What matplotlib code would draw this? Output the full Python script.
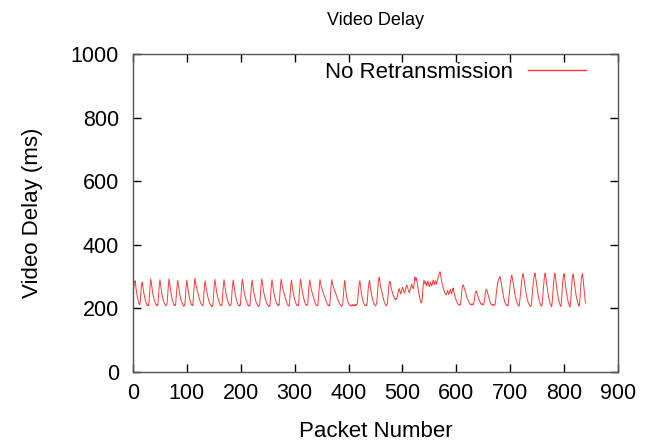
import matplotlib
matplotlib.use("Agg")
import matplotlib.pyplot as plt
import numpy as np

plt.rcParams['font.family'] = ['Liberation Sans', 'DejaVu Sans']

title = "Video Delay"
xlabel = "Packet Number"
ylabel = "Video Delay (ms)"
series_name = "No Retransmission"
xticks = [0, 100, 200, 300, 400, 500, 600, 700, 800, 900]
yticks = [0, 200, 400, 600, 800, 1000]

# video delay per packet (ms), one row per cycle
delay_rows = [
    [232, 256, 274, 283],
    [287, 272, 258, 246, 236, 228, 221, 216, 212, 214, 232, 258, 275],
    [282, 271, 259, 249, 240, 232, 225, 219, 214, 210, 208, 211, 209, 228, 254, 276],
    [292, 280, 266, 254, 244, 236, 229, 223, 218, 214, 211, 209, 212, 210, 229, 255, 277],
    [290, 277, 264, 252, 243, 235, 228, 222, 217, 213, 210, 208, 211, 213, 231, 258, 279],
    [293, 279, 265, 253, 243, 234, 226, 220, 215, 211, 209, 212, 210, 232, 257, 276],
    [288, 276, 262, 251, 242, 234, 227, 222, 217, 213, 210, 207, 210, 209, 227, 254, 275],
    [289, 275, 262, 250, 240, 231, 224, 218, 213, 210, 212, 209, 234, 262, 282],
    [295, 284, 272, 266, 258, 250, 246, 238, 231, 225, 220, 216, 213, 210, 208, 211, 230, 256, 276],
    [287, 274, 262, 252, 243, 235, 229, 223, 218, 214, 211, 208, 206, 209, 207, 230, 257, 277],
    [291, 278, 265, 254, 245, 237, 230, 224, 218, 214, 211, 209, 212, 210, 231, 258, 278],
    [290, 277, 263, 252, 243, 235, 228, 222, 217, 213, 210, 208, 211, 212, 232, 258, 277],
    [289, 276, 263, 252, 242, 234, 227, 221, 216, 212, 209, 207, 210, 209, 230, 257, 279],
    [292, 279, 266, 255, 246, 238, 231, 225, 220, 215, 212, 209, 207, 210, 208, 229, 256, 276],
    [289, 276, 264, 253, 244, 236, 229, 223, 218, 214, 211, 208, 206, 209, 211, 232, 259, 279],
    [293, 281, 268, 257, 248, 240, 233, 227, 221, 217, 213, 210, 208, 206, 209, 207, 228, 256, 277],
    [290, 277, 264, 253, 244, 236, 229, 223, 218, 214, 211, 209, 212, 210, 231, 257, 278],
    [292, 280, 270, 262, 256, 249, 243, 236, 230, 224, 219, 215, 212, 209, 207, 210, 229, 255, 276],
    [289, 276, 263, 252, 243, 235, 228, 222, 217, 213, 210, 208, 211, 209, 230, 257, 278],
    [292, 279, 266, 255, 245, 237, 230, 224, 218, 214, 211, 209, 212, 211, 232, 258, 277],
    [290, 278, 267, 259, 252, 246, 239, 233, 227, 222, 217, 213, 210, 208, 210, 209, 228, 255, 277],
    [291, 282, 272, 266, 260, 255, 249, 244, 240, 234, 229, 224, 220, 216, 213, 210, 208, 211, 209, 230, 256, 276],
    [290, 281, 272, 267, 262, 258, 252, 248, 243, 238, 233, 229, 224, 220, 216, 213, 210, 208, 206, 209, 212, 233, 258, 276],
    [287, 270, 255, 243, 234, 226, 220, 215, 212, 210, 208, 211, 209, 207, 210, 212, 209, 211, 208, 210, 213, 209, 211, 214, 226, 248, 266, 280],
    [286, 272, 258, 246, 236, 228, 222, 217, 213, 210, 208, 211, 209, 212, 228, 252, 270, 281],
    [288, 274, 261, 250, 241, 233, 226, 220, 216, 212, 210, 208, 211, 214, 232, 258, 280, 292],
    [298, 285, 272, 264, 258, 250, 242, 235, 228, 222, 217, 213, 210, 208, 211, 215, 235, 258, 274, 282],
    [285, 276, 266, 258, 252, 246, 241, 237, 233, 230, 228, 231, 229, 234],
    [242, 251, 258, 262, 256, 250, 246, 252, 260, 266, 262, 256, 250, 248, 254],
    [262, 270, 274, 268, 262, 257, 252, 249, 256, 264, 270, 276, 272, 266, 262, 270, 282],
    [299, 292, 288, 296, 284, 272, 262, 252, 243, 234, 226, 220, 217],
    [219, 236, 262, 280, 289, 282, 276, 284, 279, 271, 277, 286, 280, 272, 268, 276, 283, 277],
    [270, 274, 282, 289, 281, 275, 279, 287, 283, 276, 281, 290, 296, 302, 309, 314],
    [315, 303, 292, 283, 275, 268, 262, 257, 252, 248, 245, 242],
    [246, 252, 256, 250, 244, 248, 255, 260, 253, 246, 250, 258, 264, 256, 247, 240, 234, 229],
    [224, 220, 217, 214, 212, 210, 213, 211, 216, 232, 252, 266, 272],
    [274, 268, 262, 256, 250, 244, 238, 233, 228, 224, 221, 218, 215, 213, 211, 214, 212],
    [214, 211, 215, 222, 234, 246, 252, 255, 250, 244, 238, 233, 228, 224, 220, 217, 214, 212, 215, 213, 211],
    [214, 222, 236, 250, 258, 260, 256, 250, 243, 236, 229, 223, 218, 214],
    [212, 210, 213, 211, 209, 212, 210, 214, 226, 244, 260, 272, 281, 288, 293, 297],
    [300, 292, 282, 271, 260, 250, 241, 233, 226, 220, 215, 212, 210, 208, 211, 209, 224, 242, 260, 276, 289, 298],
    [304, 295, 284, 272, 261, 251, 242, 234, 227, 221, 216, 212, 209, 207, 210, 226, 245, 264, 281, 294, 303],
    [309, 299, 287, 275, 263, 252, 242, 234, 227, 221, 216, 212, 209, 207, 206, 209, 226, 247, 267, 284, 298, 307],
    [311, 299, 286, 273, 261, 250, 240, 231, 224, 218, 213, 209, 207, 210, 229, 251, 273, 292, 305],
    [311, 298, 284, 271, 259, 248, 238, 229, 222, 216, 211, 208, 206, 222, 246, 270, 290, 304],
    [310, 296, 282, 268, 255, 244, 234, 226, 219, 213, 209, 206, 221, 247, 272, 292, 305],
    [309, 295, 281, 267, 254, 243, 233, 225, 218, 212, 208, 205, 220, 246, 271, 291, 304],
    [308, 294, 280, 267, 255, 244, 234, 226, 219, 214, 210, 207, 223, 249, 273, 292, 303],
    [309, 296, 280, 262, 243, 226, 217],
]

delay = [v for row in delay_rows for v in row]
packets = np.arange(len(delay))

fig = plt.figure(figsize=(6.51, 4.41), dpi=100)
ax = fig.add_axes([0.2043, 0.1565, 0.745, 0.7211])

line_color = '#ff3a3a'
ax.plot(packets, delay, color=line_color, linewidth=0.7, label=series_name)

ax.set_xlim(0, 900)
ax.set_ylim(0, 1000)
ax.set_xticks(xticks)
ax.set_yticks(yticks)
ax.tick_params(direction='in', length=6, width=1, top=True, right=True,
               labelsize=15.5)
ax.tick_params(axis='y', pad=10)
ax.tick_params(axis='x', pad=8)
for s in ax.spines.values():
    s.set_color('#555555')
    s.set_linewidth(1)

ax.set_title(title, fontsize=13, pad=21)
ax.set_xlabel(xlabel, fontsize=16, labelpad=12)
ax.set_ylabel(ylabel, fontsize=16, labelpad=20)

leg = ax.legend(loc='upper right', frameon=False, markerfirst=False,
                handlelength=2.6, handletextpad=0.7, fontsize=16,
                borderaxespad=0, borderpad=0,
                bbox_to_anchor=(0.934, 0.975))
for h in leg.get_lines():
    h.set_linewidth(1.0)

fig.savefig('out.png', dpi=100)
